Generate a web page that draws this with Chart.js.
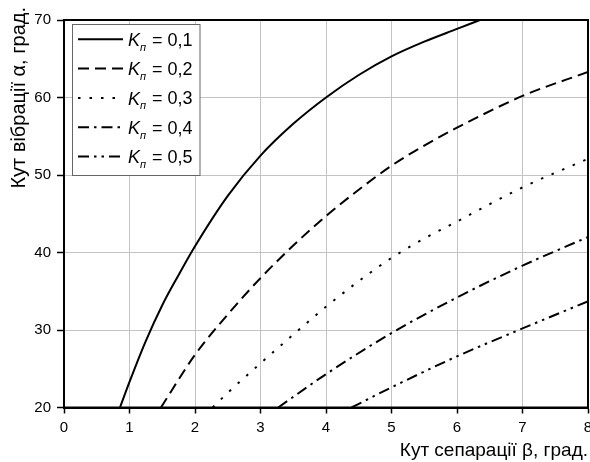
<!DOCTYPE html>
<html><head><meta charset="utf-8">
<script src="https://cdn.jsdelivr.net/npm/chart.js@4/dist/chart.umd.min.js"></script>
<style>html,body{margin:0;padding:0;background:#fff}#wrap{width:590px;height:462px}</style>
</head><body><div id="wrap"><canvas id="c" width="590" height="462"></canvas></div>
<script>
// ---- data ----
const kLabels = ['0,1', '0,2', '0,3', '0,4', '0,5'];

const betaK1  = [0.855, 1, 1.25, 1.5, 1.75, 2, 2.5, 3, 3.5, 4, 4.5, 5, 5.5, 6, 6.35];
const alphaK1 = [20, 23.3, 28.6, 33.2, 37.1, 40.8, 47.3, 52.5, 56.6, 60, 62.9, 65.3, 67.2, 68.85, 70];

const betaK2  = [1.48, 2, 2.5, 3, 3.5, 4, 4.5, 5, 5.5, 6, 7, 8];
const alphaK2 = [20, 26.8, 32.0, 36.7, 40.9, 44.7, 48.1, 51.2, 53.8, 56.1, 60.2, 63.3];

const betaK3  = [2.27, 2.5, 3, 3.5, 4, 4.5, 5, 5.5, 6, 7, 8];
const alphaK3 = [20, 21.9, 25.7, 29.4, 33, 36.3, 39.3, 41.8, 44, 48.4, 52.1];

const betaK4  = [3.27, 4, 5, 6, 7, 8];
const alphaK4 = [20, 24.3, 29.6, 34.2, 38.3, 42];

const betaK5  = [4.39, 5, 6, 7, 8];
const alphaK5 = [20, 22.6, 26.6, 30.2, 33.7];

const xTickValues = [0, 1, 2, 3, 4, 5, 6, 7, 8];
const yTickValues = [20, 30, 40, 50, 60, 70];

const xTitle = 'Кут сепарації β, град.';
const yTitle = 'Кут вібрації α, град.';

// ---- styles ----
const dashStyles = [[], [11, 6], [2.5, 9], [11, 5, 2.5, 5], [11, 5, 2.5, 5, 2.5, 5]];
const FONT = "'Liberation Sans', Arial, sans-serif";

const betas = [betaK1, betaK2, betaK3, betaK4, betaK5];
const alphas = [alphaK1, alphaK2, alphaK3, alphaK4, alphaK5];

const datasets = kLabels.map((k, i) => ({
  label: 'Kп = ' + k,
  data: betas[i].map((b, j) => ({ x: b, y: alphas[i][j] })),
  borderColor: '#000',
  backgroundColor: '#000',
  borderWidth: 2,
  borderDash: dashStyles[i],
  borderCapStyle: 'butt',
  pointRadius: 0,
  fill: false,
  cubicInterpolationMode: 'monotone'
}));

const frame = {
  id: 'frame',
  afterDatasetsDraw(chart) {
    const { ctx, chartArea: a } = chart;
    ctx.save();
    ctx.strokeStyle = '#000';
    ctx.lineWidth = 2;
    ctx.strokeRect(a.left, a.top, a.right - a.left, a.bottom - a.top);
    ctx.restore();
  }
};

const yTitleShift = {
  id: 'yTitleShift',
  afterLayout(chart) {
    const s = chart.scales.y;
    if (s && !s.__shifted) {
      s.__shifted = true;
      s.drawTitle = function () {
        const t = this.top;
        this.top = t - 13;
        Object.getPrototypeOf(this).drawTitle.call(this);
        this.top = t;
      };
    }
  }
};

const legendBox = {
  id: 'legendBox',
  afterDraw(chart) {
    const { ctx, chartArea: a } = chart;
    const L = a.left + 8, T = a.top + 4, W = 127.5, H = 151;
    ctx.save();
    ctx.fillStyle = '#fff';
    ctx.fillRect(L, T, W, H);
    ctx.strokeStyle = '#666';
    ctx.lineWidth = 1;
    ctx.strokeRect(L + 0.5, T + 0.5, W, H);
    chart.data.datasets.forEach((ds, i) => {
      const cy = T + 15.3 + i * 29.3;
      ctx.strokeStyle = '#000';
      ctx.lineWidth = 2;
      ctx.lineCap = 'butt';
      ctx.setLineDash(ds.borderDash || []);
      ctx.beginPath();
      ctx.moveTo(L + 6, cy);
      ctx.lineTo(L + 51, cy);
      ctx.stroke();
      ctx.setLineDash([]);
      ctx.fillStyle = '#000';
      ctx.textBaseline = 'alphabetic';
      ctx.textAlign = 'left';
      ctx.font = 'italic 18px ' + FONT;
      ctx.fillText('K', L + 56, cy + 6.7);
      ctx.font = 'italic 11px ' + FONT;
      ctx.fillText('п', L + 68, cy + 11.5);
      ctx.font = '18px ' + FONT;
      ctx.fillText('= ' + kLabels[i], L + 80, cy + 6.5);
    });
    ctx.restore();
  }
};

Chart.defaults.color = '#000';
Chart.defaults.font.family = FONT;

new Chart(document.getElementById('c'), {
  type: 'line',
  data: { datasets },
  options: {
    responsive: false,
    devicePixelRatio: 1,
    animation: false,
    layout: { padding: { top: 20, right: 2, left: 0, bottom: 0 } },
    plugins: { legend: { display: false }, tooltip: { enabled: false } },
    scales: {
      x: {
        type: 'linear', min: 0, max: 8,
        afterBuildTicks: s => { s.ticks = xTickValues.map(v => ({ value: v })); },
        ticks: { font: { size: 15, family: FONT }, color: '#000', padding: 5, maxRotation: 0 },
        grid: { color: '#c4c4c4', lineWidth: 1, tickColor: '#000', tickLength: 6, tickWidth: 1.5 },
        border: { color: '#000', width: 2 },
        title: { display: true, text: xTitle, align: 'end', color: '#000',
                 font: { size: 19, family: FONT }, padding: { top: 0, bottom: 0 } },
        afterFit: s => { s.height = 54.5; s.paddingRight = 0; s.paddingLeft = 0; }
      },
      y: {
        type: 'linear', min: 20, max: 70,
        afterBuildTicks: s => { s.ticks = yTickValues.map(v => ({ value: v })); },
        ticks: { font: { size: 15, family: FONT }, color: '#000', padding: 6 },
        grid: { color: '#c4c4c4', lineWidth: 1, tickColor: '#000', tickLength: 7, tickWidth: 1.5 },
        border: { color: '#000', width: 2 },
        title: { display: true, text: yTitle, align: 'end', color: '#000',
                 font: { size: 20, family: FONT }, padding: { top: 7, bottom: 0 } },
        afterFit: s => { s.width = 64; }
      }
    }
  },
  plugins: [yTitleShift, frame, legendBox]
});
</script>
</body></html>
